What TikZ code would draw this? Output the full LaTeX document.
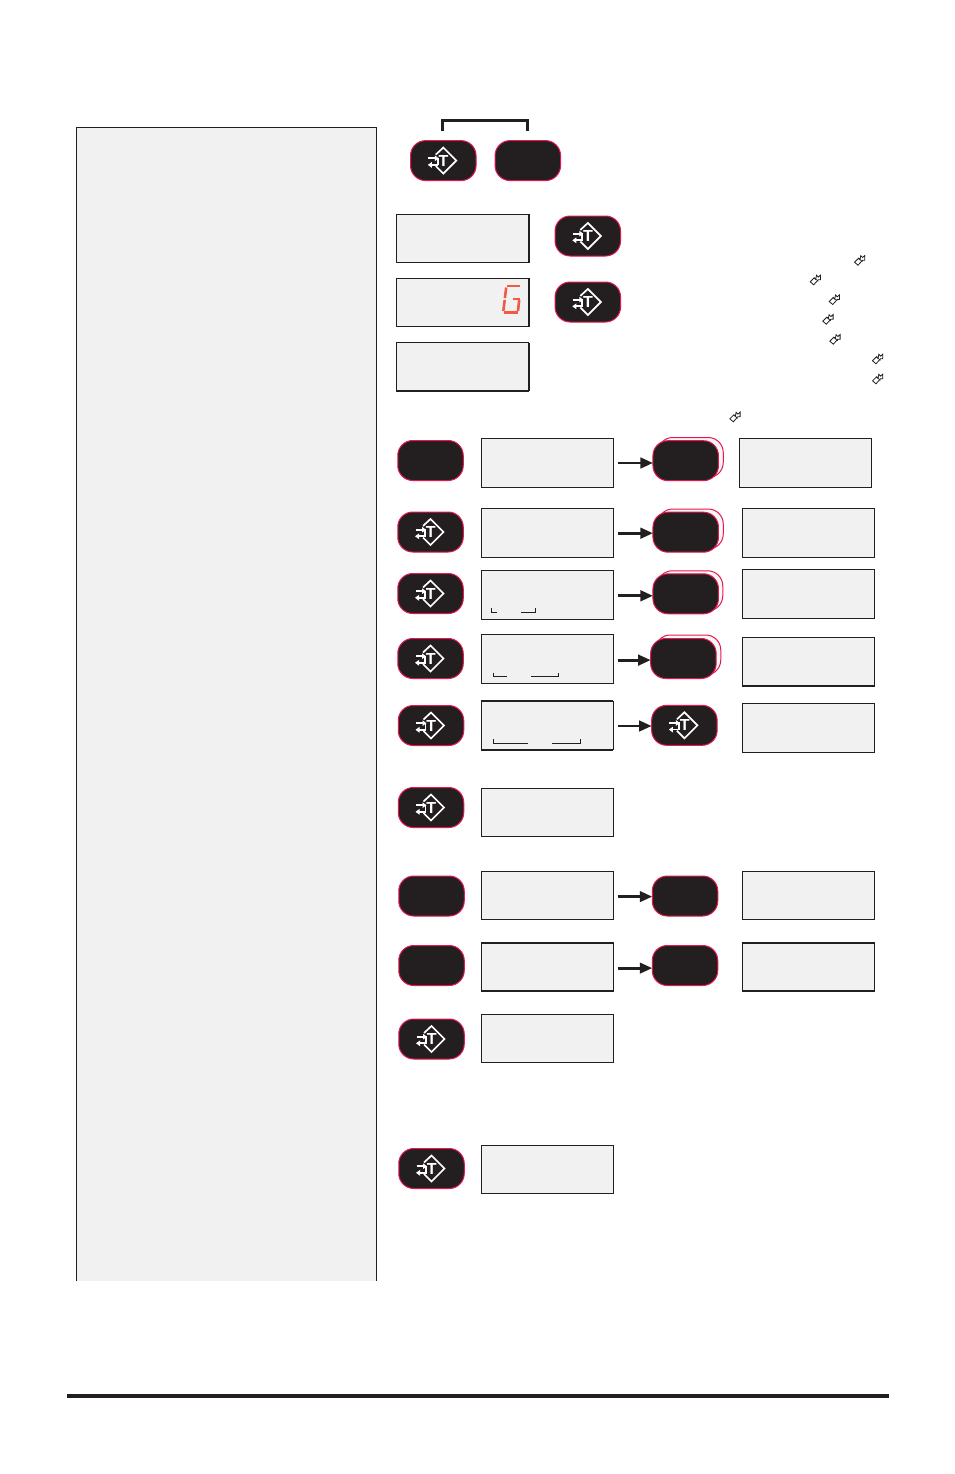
\documentclass[tikz,border=0pt]{standalone}
\usepackage{fontspec}
\setmainfont{Liberation Sans}
\usetikzlibrary{arrows.meta}
\definecolor{ink}{HTML}{231F20}
\definecolor{rim}{HTML}{E8174F}
\definecolor{pale}{HTML}{F1F1F1}
\definecolor{segred}{HTML}{F15A45}
\tikzset{
  x=1pt,y=-1pt,
  btn/.style={draw=rim,fill=ink,line width=1pt,rounded corners=15pt,minimum width=65.5pt,minimum height=40pt,inner sep=0pt,outer sep=0pt},
  backbtn/.style={btn,fill=pale!60!white},
  disp/.style={draw=ink,fill=pale,line width=0.9pt,minimum width=132pt,minimum height=48.4pt,inner sep=0pt,outer sep=0pt},
  heavy/.style={draw=ink,line width=2pt},
  flow/.style={draw=ink,line width=2.8pt,-{Triangle[length=12.5pt,width=10.5pt]},shorten <=4.5pt},
  tick/.style={draw=ink,line width=0.8pt},
  seg/.style={draw=segred,line width=2.6pt},
  tare/.pic={
    \draw[white,line width=1.7pt,line join=miter] (-7.5,-6) -- (0,-13) -- (13,0) -- (0,13) -- (-7.5,5.5);
    \draw[white,line width=1.7pt,-{Triangle[length=4pt,width=5.5pt]}] (-15,-2.3) -- (-4.5,-2.3);
    \draw[white,line width=1.7pt,-{Triangle[length=4pt,width=5.5pt]}] (-5,4.3) -- (-15.5,4.3);
    \draw[white,line width=1.7pt] (-5.5,-3) -- (-5.5,4.8);
    \node[text=white,inner sep=0pt,font=\fontsize{16}{17}\selectfont\bfseries] at (0.3,0) {T};
  },
  minikey/.pic={
    \draw[ink,line width=0.8pt,line join=miter,fill=white] (-5.5,1.5) -- (-1.5,-2.5) -- (0,-1) -- (0.8,-5) -- (2.6,-3.2) -- (4.8,-5.2) -- (4.8,-0.5) -- (2.5,-0.5) -- (-2,4.5) -- cycle;
    \draw[ink,line width=0.6pt] (-1.5,-2.5) -- (2.5,1);
  }
}
\newcommand{\flowrow}[3]{\draw[flow] ([yshift=-#3pt]#1.east) -- ([yshift=-#3pt]#1.east -| #2.west);}
\begin{document}
\begin{tikzpicture}
\path[use as bounding box,fill=white] (0,0) rectangle (954,1474);

% left panel
\path[fill=pale] (76.5,127.5) rectangle (376.5,1281);
\draw[ink,line width=0.8pt] (76.5,1281) -- (76.5,127.5) -- (376.5,127.5) -- (376.5,1281);

% bottom rule
\coordinate (ruleL) at (67,1396);
\coordinate (ruleR) at (889,1396);
\draw[ink,line width=3.4pt] (ruleL) -- (ruleR);

% top pair
\node[btn] (top1) at (443.3,160.6) {};
\node[btn] (top2) at (527.8,160.6) {};
\pic at (top1) {tare};
\coordinate (brL) at (442,131.5);
\coordinate (brR) at (527,131.5);
\draw[ink,line width=3pt] (brL) |- (484,121) -| (brR);

% first displays
\node[disp] (a1) at (462.5,238.5) {};
\node[disp] (a2) at (462.5,302.5) {};
\node[disp] (a3) at (462.5,367) {};
\draw[heavy] (a1.north east) -- (a1.south east);
\draw[heavy] (a2.north east) -- (a2.south east);
\draw[heavy] (a3.south west) -- (a3.south east);
\draw[heavy] (a3.north east) -- (a3.south east);
\node[btn] (a1b) at (587.8,236) {};
\node[btn] (a2b) at (587.8,302) {};
\pic at (a1b) {tare};
\pic at (a2b) {tare};

% seven segment digit
\draw[seg] (506.5,286) -- (520,286);
\draw[seg] (506.2,287.5) -- (504.9,298);
\draw[seg] (504.7,300) -- (503.3,311);
\draw[seg] (503.5,312.3) -- (517.5,312.3);
\draw[seg] (518,311) -- (519.2,300);
\draw[seg] (513,298.8) -- (519.5,298.8);

% mini key symbols
\pic at (860,260.7) {minikey};
\pic at (815.7,280.3) {minikey};
\pic at (834.7,300) {minikey};
\pic at (828.3,319.7) {minikey};
\pic at (835.3,339.7) {minikey};
\pic at (878,359.3) {minikey};
\pic at (878,379.3) {minikey};
\pic at (735.3,417.3) {minikey};

% left column buttons
\node[btn] (l1) at (430.5,460.5) {};
\node[btn] (l2) at (430.5,532) {};
\node[btn] (l3) at (430.5,593.5) {};
\node[btn] (l4) at (430.5,658.5) {};
\node[btn] (l5) at (431,725.5) {};
\node[btn] (l6) at (431,807.5) {};
\node[btn] (l7) at (431.5,896) {};
\node[btn] (l8) at (431.5,965.5) {};
\node[btn] (l9) at (431.5,1039) {};
\node[btn] (l10) at (431.5,1168.5) {};
\foreach \n in {l2,l3,l4,l5,l6,l9,l10} {\pic at (\n) {tare};}

% middle column displays
\node[disp] (m1) at (547,462.8) {};
\node[disp] (m2) at (547,532.8) {};
\node[disp] (m3) at (547,594.8) {};
\node[disp] (m4) at (547,658.8) {};
\node[disp] (m5) at (547,725.5) {};
\node[disp] (m6) at (547,812.3) {};
\node[disp] (m7) at (547,895.3) {};
\node[disp] (m8) at (547,966.8) {};
\node[disp] (m9) at (547,1038.3) {};
\node[disp] (m10) at (547,1169.3) {};
\draw[heavy] (m5.north west) -- (m5.north east);
\draw[heavy] (m5.south west) -- (m5.south east);
\draw[heavy] (m8.north west) -- (m8.north east);
\draw[heavy] (m8.south west) -- (m8.south east);

% underline marks
\draw[tick] (491.3,608.3) |- (496.7,612.3);
\draw[tick] (521.3,612.3) -| (535.7,608.3);
\draw[tick] (493.3,672.7) |- (506.7,676.3);
\draw[tick] (531.3,676.3) -| (558.7,672.7);
\draw[tick] (493.3,739.3) |- (527.7,743.3);
\draw[tick] (552.3,743.3) -| (580.3,739.3);

% right column buttons
\node[backbtn] at (690.5,457.5) {};
\node[btn] (r1) at (685.7,460.7) {};
\node[backbtn] at (690.5,529) {};
\node[btn] (r2) at (685.7,532.2) {};
\node[backbtn] at (690,590.8) {};
\node[btn] (r3) at (685.7,593.8) {};
\node[backbtn] at (688,655) {};
\node[btn] (r4) at (683.4,658.5) {};
\node[btn] (r5) at (684.4,725.3) {};
\pic at (r5) {tare};
\node[btn] (r7) at (685,896) {};
\node[btn] (r8) at (685,965.5) {};

% right column displays
\node[disp] (q1) at (805.5,462.8) {};
\node[disp] (q2) at (808.5,532.8) {};
\node[disp] (q3) at (808.5,593.8) {};
\node[disp] (q4) at (808.5,662) {};
\node[disp] (q5) at (808.5,727.8) {};
\node[disp] (q7) at (808.5,895.3) {};
\node[disp] (q8) at (808.5,966.8) {};
\draw[heavy] (q4.south west) -- (q4.south east);
\draw[heavy] (q8.north west) -- (q8.north east);
\draw[heavy] (q8.south west) -- (q8.south east);

% arrows
\flowrow{m1}{r1}{0.2}
\flowrow{m2}{r2}{0.4}
\flowrow{m3}{r3}{1}
\flowrow{m4}{r4}{1.3}
\flowrow{m5}{r5}{0.5}
\flowrow{m7}{r7}{1.3}
\flowrow{m8}{r8}{1.3}
\end{tikzpicture}
\end{document}
